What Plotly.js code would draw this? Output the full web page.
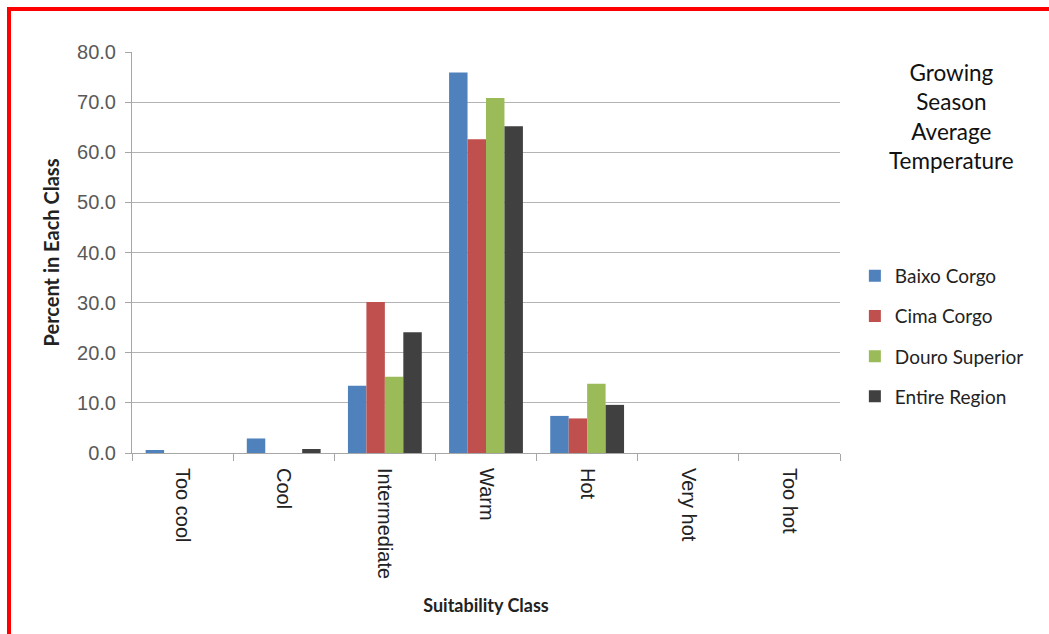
<!DOCTYPE html>
<html>
<head>
<meta charset="utf-8">
<script src="https://cdn.plot.ly/plotly-3.0.1.min.js"></script>
<style>
  html, body { margin: 0; padding: 0; overflow: hidden; background: #fff; }
  #chart { width: 1049px; height: 634px; }
  #frame { position: absolute; left: 7px; top: 7px; width: 1200px; height: 800px;
           border-left: 4px solid #ff0000; border-top: 4px solid #ff0000; pointer-events: none; }
</style>
</head>
<body>
<div id="chart"></div>
<div id="frame"></div>
<script>
const categories = ["Too cool", "Cool", "Intermediate", "Warm", "Hot", "Very hot", "Too hot"];
const seriesNames = ["Baixo Corgo", "Cima Corgo", "Douro Superior", "Entire Region"];
const baixoCorgo    = [0.6, 2.9, 13.4, 75.9, 7.4, 0, 0];
const cimaCorgo     = [0, 0, 30.1, 62.6, 6.9, 0, 0];
const douroSuperior = [0, 0, 15.2, 70.8, 13.8, 0, 0];
const entireRegion  = [0, 0.8, 24.1, 65.2, 9.6, 0, 0];
const seriesValues = [baixoCorgo, cimaCorgo, douroSuperior, entireRegion];
const colors = ["#4F81BD", "#C0504D", "#9BBB59", "#404040"];
const legendTitle = "Growing<br>Season<br>Average<br>Temperature";
const xTitle = "Suitability Class";
const yTitle = "Percent in Each Class";

const traces = seriesNames.map((name, i) => ({
  type: "bar",
  name: name,
  x: categories,
  y: seriesValues[i],
  marker: { color: colors[i], line: { width: 0 } },
  legendgroup: "g" + i,
  hoverinfo: "x+y+name"
}));

const layout = {
  width: 1049,
  height: 634,
  margin: { l: 132, r: 209, t: 52, b: 181 },
  paper_bgcolor: "#ffffff",
  plot_bgcolor: "#ffffff",
  barmode: "group",
  bargap: 0.27,
  bargroupgap: 0,
  showlegend: true,
  legend: {
    x: 1.021, xanchor: "left",
    y: 0.489, yanchor: "top",
    traceorder: "grouped",
    tracegroupgap: 12.5,
    font: { family: "Lato, 'Noto Sans', sans-serif", size: 19, color: "#222222" },
    bgcolor: "rgba(0,0,0,0)"
  },
  xaxis: {
    type: "category",
    showline: true,
    linecolor: "#a6a6a6",
    linewidth: 1,
    ticks: "outside",
    tickson: "boundaries",
    ticklen: 7,
    tickcolor: "#a6a6a6",
    tickangle: 90,
    ticklabelstandoff: 10,
    tickfont: { family: "'Liberation Sans', Arial, sans-serif", size: 20, color: "#222222" },
    showgrid: false,
    title: { text: xTitle, standoff: 21,
             font: { family: "Lato, 'Noto Sans', sans-serif", size: 18, color: "#222222", weight: "bold" } }
  },
  yaxis: {
    range: [0, 80],
    dtick: 10,
    tickformat: ".1f",
    showline: true,
    linecolor: "#a6a6a6",
    linewidth: 1,
    ticks: "outside",
    ticklen: 6,
    tickcolor: "#a6a6a6",
    ticklabelstandoff: 5,
    showgrid: true,
    gridcolor: "#b3b3b3",
    gridwidth: 1,
    zeroline: false,
    tickfont: { family: "'Liberation Sans', Arial, sans-serif", size: 20, color: "#595959" },
    title: { text: yTitle, standoff: 12,
             font: { family: "Lato, 'Noto Sans', sans-serif", size: 20, color: "#222222", weight: "bold" } }
  },
  annotations: [{
    text: legendTitle,
    xref: "paper", yref: "paper",
    x: 1.158, y: 0.838,
    xanchor: "center", yanchor: "middle",
    showarrow: false,
    align: "center",
    font: { family: "Lato, 'Noto Sans', sans-serif", size: 22.5, color: "#111111" }
  }]
};

Plotly.newPlot("chart", traces, layout, { displayModeBar: false, staticPlot: false });
</script>
</body>
</html>
